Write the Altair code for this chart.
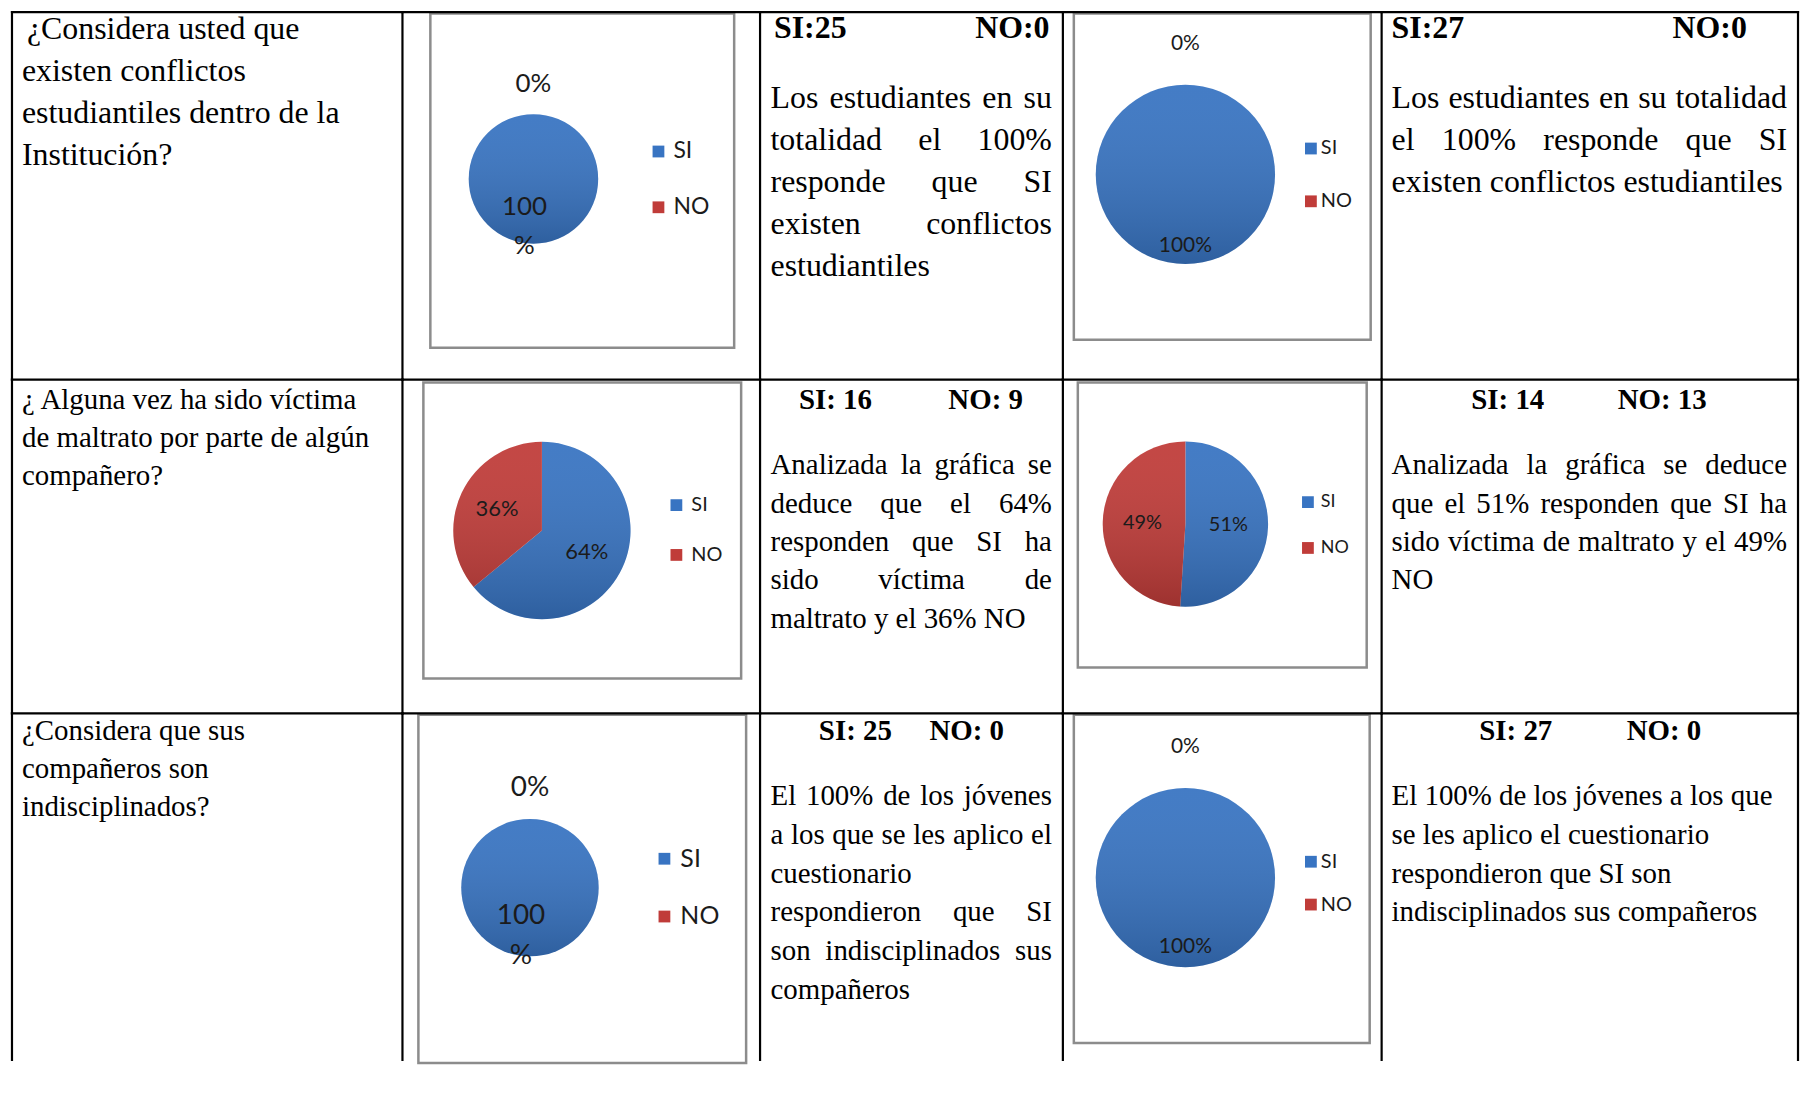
import math
import altair as alt
import pandas as pd

# ------------------------------------------------------------------ data
categories = ["SI", "NO"]

question_lines = [
    ["¿Considera usted que", "existen conflictos",
     "estudiantiles dentro de la", "Institución?"],
    ["¿ Alguna vez ha sido víctima", "de maltrato por parte de algún", "compañero?"],
    ["¿Considera que sus", "compañeros son", "indisciplinados?"],
]

count_a_si = [25, 16, 25]
count_a_no = [0, 9, 0]
count_b_si = [27, 14, 27]
count_b_no = [0, 13, 0]

pct_a_si = [100, 64, 100]
pct_a_no = [0, 36, 0]
pct_b_si = [100, 51, 100]
pct_b_no = [0, 49, 0]

comment_a_lines = [
    ["Los estudiantes en su", "totalidad el 100%", "responde que SI",
     "existen conflictos", "estudiantiles"],
    ["Analizada la gráfica se", "deduce que el 64%", "responden que SI ha",
     "sido víctima de", "maltrato y el 36% NO"],
    ["El 100% de los jóvenes", "a los que se les aplico el", "cuestionario",
     "respondieron que SI", "son indisciplinados sus", "compañeros"],
]
comment_b_lines = [
    ["Los estudiantes en su totalidad", "el 100% responde que SI",
     "existen conflictos estudiantiles"],
    ["Analizada la gráfica se deduce", "que el 51% responden que SI ha",
     "sido víctima de maltrato y el 49%", "NO"],
    ["El 100% de los jóvenes a los que", "se les aplico el cuestionario",
     "respondieron que SI son", "indisciplinados sus compañeros"],
]

# ------------------------------------------------------------------ layout / style
LINE = 2.2
COL_W = [392, 359, 304, 320, 418]
ROW_H = [369, 335, 348]
PIE_DY = [-3, 0, 0]
SERIF = "Liberation Serif"
SANS = "Lato"
PIE_COLORS = ["#3874C2", "#C03C39"]

BODY_FS = [32, 29, 29]
Q_Y0 = [17, 20, 18]
Q_LH = [42.2, 38.5, 38]
Q_INDENT = [[5, 0, 0, 0], [0, 0, 0], [0, 0, 0]]
HEAD_Y = [16, 20, 17.5]
PARA_Y0 = [86, 86, 83.5]
PARA_LH = [42.2, 38.5, 38.8]
HEAD_SEP = ["", " ", " "]
HEAD_X_A = [(14, 216), (39, 189), (59, 170)]
HEAD_X_B = [(10, 292), (90, 237), (98, 246)]
JUST_A = [[1, 1, 1, 1, 0], [1, 1, 1, 1, 0], [1, 1, 0, 1, 1, 0]]
JUST_B = [[1, 1, 0], [1, 1, 1, 0], [0, 0, 0, 0]]
PARA_X_A = (10.5, 293)
PARA_X_B = (10, 407)

WRAP_A = [True, False, True]
WRAP_B = [False, False, False]
PIE_A = [
    dict(frame=(28, 1, 333, 340), c=(131.5, 170.5), r=65, inner=0.44, outer=1.47,
         lab=26, lh=39, dx=-9, sq=(257, 272), leg_y=(143, 199), leg_fs=23),
    dict(frame=(21, 3, 340, 300), c=(140, 151.5), r=89, inner=0.56, outer=1.45,
         lab=22, lh=30, dx=0, sq=(275, 290), leg_y=(126, 176), leg_fs=20),
    dict(frame=(16, 1, 345, 351), c=(128, 175), r=69, inner=0.42, outer=1.45,
         lab=28, lh=40, dx=-9, sq=(263, 279), leg_y=(146, 204), leg_fs=25),
]
PIE_B = [
    dict(frame=(11, 1, 309, 332), c=(123, 166), r=90, inner=0.8, outer=1.46,
         lab=21, lh=30, dx=0, sq=(249, 259), leg_y=(140, 193), leg_fs=20),
    dict(frame=(15, 3, 305, 289), c=(123, 145), r=83, inner=0.52, outer=1.45,
         lab=20, lh=30, dx=0, sq=(246, 259), leg_y=(123, 169), leg_fs=18),
    dict(frame=(11, 1, 308, 331), c=(123, 165), r=90, inner=0.77, outer=1.46,
         lab=21, lh=30, dx=0, sq=(249, 259), leg_y=(149, 192), leg_fs=20),
]

# Times / Liberation Serif advance widths (1/1000 em) for justification
TIMES = dict(zip(" abcdefghijklmnopqrstuvwxyz",
                 [250, 444, 500, 444, 500, 444, 333, 500, 500, 278, 278, 500, 278,
                  778, 500, 500, 500, 500, 333, 389, 278, 500, 500, 722, 500, 500, 444]))
TIMES.update(dict(zip("ABCDEFGHIJKLMNOPQRSTUVWXYZ",
                      [722, 667, 667, 722, 611, 556, 722, 722, 333, 389, 722, 611, 889,
                       722, 722, 556, 722, 667, 556, 611, 722, 722, 944, 722, 722, 611])))
TIMES.update({d: 500 for d in "0123456789"})
TIMES.update({"%": 833, ":": 278, "?": 444, "¿": 444, ".": 250, ",": 250,
              "á": 444, "é": 444, "í": 278, "ó": 500, "ú": 500, "ñ": 500})


def tw(s, fs):
    return sum(TIMES.get(ch, 500) for ch in s) * fs / 1000.0


def para_items(lines, just, x0, x1, y0, lh, fs):
    items = []
    for i, line in enumerate(lines):
        y = y0 + i * lh
        words = line.split(" ")
        if just[i] and len(words) > 1:
            total = sum(tw(w, fs) for w in words)
            gap = (x1 - x0 - total) / (len(words) - 1)
            x = x0
            for w in words:
                items.append({"x": x, "y": y, "t": w})
                x += tw(w, fs) + gap
        else:
            items.append({"x": x0, "y": y, "t": line})
    return items


def dummy():
    return alt.Chart(alt.Data(values=[{}]))


def borders(w, h, right=False):
    rule = dict(color="black", strokeWidth=LINE, strokeCap="square")
    layers = [
        dummy().mark_rule(**rule).encode(x=alt.value(0), x2=alt.value(w), y=alt.value(0)),
        dummy().mark_rule(**rule).encode(x=alt.value(0), y=alt.value(0), y2=alt.value(h)),
    ]
    if right:
        layers.append(dummy().mark_rule(**rule).encode(x=alt.value(w), y=alt.value(0),
                                                       y2=alt.value(h)))
    return layers


def text_layer(items, fs, bold=False):
    return alt.Chart(pd.DataFrame(items)).mark_text(
        align="left", baseline="middle", font=SERIF, fontSize=fs,
        fontWeight="bold" if bold else "normal", color="black"
    ).encode(
        x=alt.X("x:Q", scale=None, axis=None),
        y=alt.Y("y:Q", scale=None, axis=None),
        text="t:N",
    )


def question_cell(i, w, h):
    fs = BODY_FS[i]
    items = [{"x": 10 + Q_INDENT[i][k], "y": Q_Y0[i] + k * Q_LH[i], "t": t}
             for k, t in enumerate(question_lines[i])]
    return alt.layer(text_layer(items, fs), *borders(w, h)).properties(width=w, height=h)


def comment_cell(i, w, h, si, no, lines, just, px, hx, right=False):
    fs = BODY_FS[i]
    sep = HEAD_SEP[i]
    head = [{"x": hx[0], "y": HEAD_Y[i], "t": f"SI:{sep}{si}"},
            {"x": hx[1], "y": HEAD_Y[i], "t": f"NO:{sep}{no}"}]
    body = para_items(lines, just, px[0], px[1], PARA_Y0[i], PARA_LH[i], fs)
    return alt.layer(text_layer(head, fs, bold=True), text_layer(body, fs),
                     *borders(w, h, right)).properties(width=w, height=h)


def pie_cell(w, h, si, no, cfg, wrap, dy):
    labs = []
    for p in (si, no):
        labs.append(f"{p}\n%" if (wrap and p == 100) else f"{p}%")
    df = pd.DataFrame({"c": categories, "v": [si, no], "o": [0, 1], "lab": labs})
    color = alt.Color("c:N", scale=alt.Scale(domain=categories, range=PIE_COLORS),
                      legend=None)
    cx, cy = cfg["c"]
    cy += dy
    r = cfg["r"]
    fx1, fy1, fx2, fy2 = cfg["frame"]
    fy1 = max(1.5, fy1 + dy)
    fy2 = fy2 + dy
    pos = dict(x=alt.value(cx), y=alt.value(cy))
    theta = alt.Theta("v:Q", stack=True)
    order = alt.Order("o:Q")

    frame = dummy().mark_rect(fill="white", stroke="#8c8c8c", strokeWidth=2.5).encode(
        x=alt.value(fx1), x2=alt.value(fx2), y=alt.value(fy1), y2=alt.value(fy2))
    base = alt.Chart(df)
    arcs = base.mark_arc(radius=r).encode(theta=theta, color=color, order=order, **pos)
    shade = dummy().mark_arc(
        radius=r, theta=0, theta2=2 * math.pi,
        fill=alt.LinearGradient(
            gradient="linear",
            stops=[alt.GradientStop(color="rgba(255,255,255,0.06)", offset=0),
                   alt.GradientStop(color="rgba(0,0,0,0.18)", offset=1)],
            x1=0, x2=0, y1=0, y2=1),
    ).encode(**pos)
    lab_style = dict(font=SANS, fontSize=cfg["lab"], lineBreak="\n", lineHeight=cfg["lh"],
                     color="#1b1b1b", align="center", baseline="middle")
    inner = base.transform_filter("datum.v > 0").mark_text(
        radius=r * cfg["inner"], dx=cfg["dx"], **lab_style).encode(
        theta=theta, order=order, text="lab:N", **pos)
    outer = base.transform_filter("datum.v == 0").mark_text(
        radius=r * cfg["outer"], **lab_style).encode(
        theta=theta, order=order, text="lab:N", **pos)

    ly = alt.Y("c:N", scale=alt.Scale(domain=categories,
                                      range=[cfg["leg_y"][0] + dy, cfg["leg_y"][1] + dy],
                                      padding=0),
               axis=None)
    leg_sym = base.mark_square(size=140, opacity=1).encode(
        x=alt.value(cfg["sq"][0]), y=ly, color=color)
    leg_txt = base.mark_text(align="left", baseline="middle", font=SANS,
                             fontSize=cfg["leg_fs"], color="#1b1b1b").encode(
        x=alt.value(cfg["sq"][1]), y=ly, text="c:N")
    return alt.layer(frame, arcs, shade, inner, outer, leg_sym, leg_txt,
                     *borders(w, h)).properties(width=w, height=h)


cells = []
for i in range(3):
    h = ROW_H[i]
    dy = PIE_DY[i]
    cells += [
        question_cell(i, COL_W[0], h),
        pie_cell(COL_W[1], h, pct_a_si[i], pct_a_no[i], PIE_A[i], WRAP_A[i], dy),
        comment_cell(i, COL_W[2], h, count_a_si[i], count_a_no[i], comment_a_lines[i],
                     JUST_A[i], PARA_X_A, HEAD_X_A[i]),
        pie_cell(COL_W[3], h, pct_b_si[i], pct_b_no[i], PIE_B[i], WRAP_B[i], dy),
        comment_cell(i, COL_W[4], h, count_b_si[i], count_b_no[i], comment_b_lines[i],
                     JUST_B[i], PARA_X_B, HEAD_X_B[i], right=True),
    ]

chart = alt.concat(*cells, columns=5, spacing=0, bounds="flush").properties(
    padding={"left": 2, "top": 0, "right": 0, "bottom": 0},
    background="white",
).configure_view(stroke=None)

chart.save("out.html", embed_options={"renderer": "svg", "actions": False})
